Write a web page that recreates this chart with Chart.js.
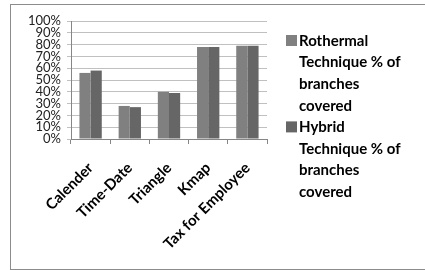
<!DOCTYPE html>
<html>
<head>
<meta charset="utf-8">
<script src="https://cdn.jsdelivr.net/npm/chart.js@4/dist/chart.umd.min.js"></script>
<style>
  html, body { margin: 0; padding: 0; background: #fff; }
  #wrap { position: relative; width: 425px; height: 270px; }
  #frame { position: absolute; left: 10px; top: 4px; width: 430px; height: 264px; border: 1px solid #8c8c8c; }
  #chart { position: absolute; left: 0; top: 0; }
</style>
</head>
<body>
<div id="wrap">
  <div id="frame"></div>
  <canvas id="chart" width="425" height="270"></canvas>
</div>
<script>
// data
const categories = ["Calender", "Time-Date", "Triangle", "Kmap", "Tax for Employee"];
const rothermal = [56, 28, 40, 78, 79];
const hybrid = [58, 27, 39, 78, 79];
const yTicks = [0, 10, 20, 30, 40, 50, 60, 70, 80, 90, 100];
const rothermalName = ["Rothermal", "Technique % of", "branches", "covered"];
const hybridName = ["Hybrid", "Technique % of", "branches", "covered"];

// legend drawn by hand so labels can wrap like the original
const sideLegend = {
  id: 'sideLegend',
  afterDraw(chart) {
    const ctx = chart.ctx;
    const names = [rothermalName, hybridName];
    let line = 0;
    ctx.save();
    ctx.font = 'bold 15px Lato';
    ctx.textBaseline = 'middle';
    chart.data.datasets.forEach((ds, i) => {
      const y0 = 41 + line * 21.6;
      ctx.fillStyle = ds.backgroundColor;
      ctx.fillRect(286, y0 - 6, 11, 11);
      ctx.fillStyle = '#000';
      names[i].forEach((txt) => {
        ctx.fillText(txt, 299, 41 + line * 21.6);
        line++;
      });
    });
    ctx.restore();
  }
};

new Chart(document.getElementById('chart'), {
  type: 'bar',
  data: {
    labels: categories,
    datasets: [
      { label: rothermalName.join(' '), data: rothermal, backgroundColor: '#808080' },
      { label: hybridName.join(' '), data: hybrid, backgroundColor: '#666666' },
    ],
  },
  options: {
    responsive: false,
    animation: false,
    layout: { padding: { left: 0, right: 158, top: 21, bottom: 0 } },
    plugins: { legend: { display: false }, tooltip: { enabled: false } },
    datasets: { bar: { categoryPercentage: 0.57, barPercentage: 1.0 } },
    scales: {
      x: {
        grid: { offset: true, drawOnChartArea: false, color: '#868686', tickLength: 5 },
        border: { color: '#868686' },
        ticks: {
          color: '#000',
          font: { family: 'Lato', size: 15, weight: 'bold' },
          maxRotation: 45, minRotation: 45, padding: 15, autoSkip: false,
        },
        afterFit(scale) { scale.height = 131; },
      },
      y: {
        min: 0, max: 100,
        afterBuildTicks(scale) { scale.ticks = yTicks.map((v) => ({ value: v })); },
        grid: { color: '#c0c0c0', tickLength: 4 },
        border: { color: '#868686' },
        ticks: {
          color: '#222',
          font: { family: 'Lato', size: 13 },
          padding: 6,
          autoSkip: false,
          callback: (v) => v + '%',
        },
        afterFit(scale) { scale.width = 71; },
      },
    },
  },
  plugins: [sideLegend],
});
</script>
</body>
</html>
